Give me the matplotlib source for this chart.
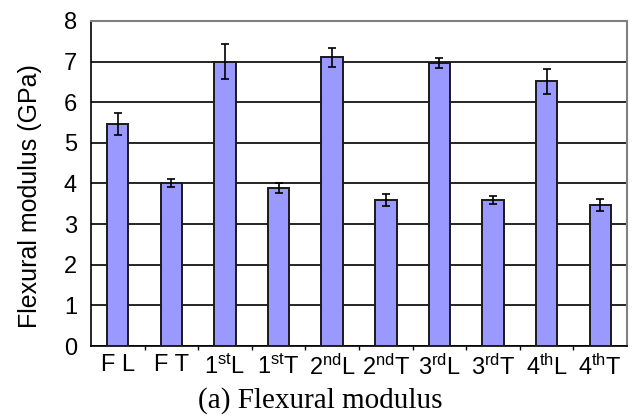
import matplotlib.pyplot as plt
import numpy as np

plt.rcParams['font.family'] = 'Liberation Sans'
plt.rcParams['mathtext.fontset'] = 'custom'
plt.rcParams['mathtext.rm'] = 'Liberation Sans'
plt.rcParams['mathtext.it'] = 'Liberation Sans'

# specimen groups and measured modulus
labels = ['F L', 'F T', r'1$^{\mathrm{st}}$L', r'1$^{\mathrm{st}}$T',
          r'2$^{\mathrm{nd}}$L', r'2$^{\mathrm{nd}}$T', r'3$^{\mathrm{rd}}$L',
          r'3$^{\mathrm{rd}}$T', r'4$^{\mathrm{th}}$L', r'4$^{\mathrm{th}}$T']
modulus = [5.47, 4.01, 7.0, 3.88, 7.1, 3.6, 6.97, 3.59, 6.51, 3.47]
err = [0.27, 0.09, 0.43, 0.12, 0.24, 0.15, 0.12, 0.1, 0.3, 0.14]

fig = plt.figure(figsize=(6.36, 4.17), dpi=100)
ax = fig.add_axes([0.143, 0.170, 0.843, 0.780])

x = np.arange(len(labels))
ax.bar(x, modulus, width=0.4, color='#9999ff', edgecolor='#1a1a1a', linewidth=1.4, zorder=3)
ax.errorbar(x, modulus, yerr=err, fmt='none', ecolor='black', elinewidth=1.2,
            capsize=3, capthick=1.2, zorder=4)

ax.set_xlim(-0.5, len(labels) - 0.5)
ax.set_ylim(0, 8)
ax.set_yticks(range(0, 9))
ax.yaxis.grid(True, color='black', linewidth=1.2, zorder=0)
ax.set_axisbelow(True)

ax.set_xticks(x)
ax.set_xticklabels(labels, fontsize=17)
ax.set_xticks(np.arange(0.5, len(labels) - 0.5), minor=True)
ax.tick_params(axis='x', which='major', length=0, pad=6)
ax.tick_params(axis='x', which='minor', length=3, width=1, direction='out')
ax.tick_params(axis='y', length=0, labelsize=17, pad=10)

for side in ['top', 'right']:
    ax.spines[side].set_color('#808080')
    ax.spines[side].set_linewidth(1.5)
for side in ['left', 'bottom']:
    ax.spines[side].set_color('black')
    ax.spines[side].set_linewidth(1.2)

ax.set_ylabel('Flexural modulus (GPa)', fontsize=18)
ax.yaxis.set_label_coords(-0.092, 0.46)
fig.text(0.503, 0.04, '(a) Flexural modulus', family='Liberation Serif',
         fontsize=21, ha='center', va='center')

fig.savefig('out.png', dpi=100)
